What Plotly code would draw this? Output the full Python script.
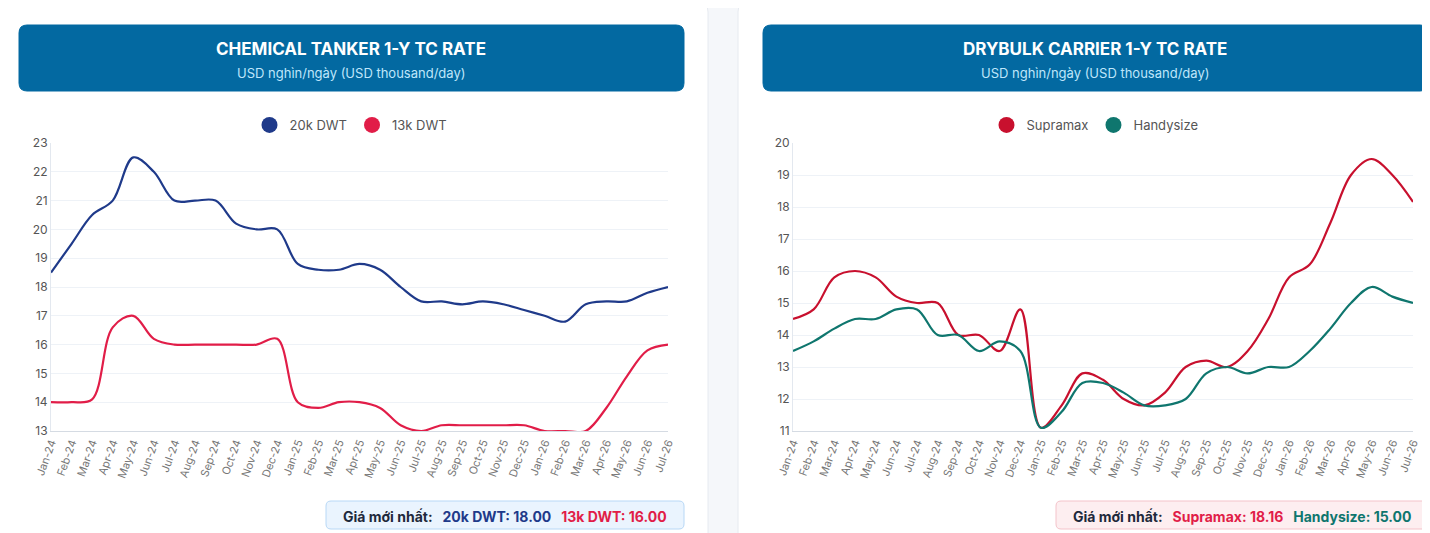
import plotly.graph_objects as go

months = ["Jan-24", "Feb-24", "Mar-24", "Apr-24", "May-24", "Jun-24", "Jul-24", "Aug-24", "Sep-24", "Oct-24",
          "Nov-24", "Dec-24", "Jan-25", "Feb-25", "Mar-25", "Apr-25", "May-25", "Jun-25", "Jul-25", "Aug-25",
          "Sep-25", "Oct-25", "Nov-25", "Dec-25", "Jan-26", "Feb-26", "Mar-26", "Apr-26", "May-26", "Jun-26", "Jul-26"]

dwt20k = [18.5, 19.5, 20.5, 21, 22.5, 22, 21, 21, 21, 20.2, 20, 20, 18.8, 18.6, 18.6, 18.8, 18.6, 18, 17.5, 17.5,
          17.4, 17.5, 17.4, 17.2, 17, 16.8, 17.4, 17.5, 17.5, 17.8, 18]
dwt13k = [14, 14, 14.1, 16.6, 17, 16.2, 16, 16, 16, 16, 16, 16.2, 14, 13.8, 14, 14, 13.8, 13.2, 13, 13.2,
          13.2, 13.2, 13.2, 13.2, 13, 13, 13, 13.8, 14.9, 15.8, 16]
supramax = [14.5, 14.8, 15.8, 16, 15.8, 15.2, 15, 15, 14, 14, 13.5, 14.8, 11.1, 11.8, 12.8, 12.6, 12, 11.8, 12.2, 13,
            13.2, 13, 13.5, 14.5, 15.8, 16.2, 17.5, 19, 19.5, 19, 18.16]
handysize = [13.5, 13.8, 14.2, 14.5, 14.5, 14.8, 14.8, 14, 14, 13.5, 13.8, 13.5, 11.1, 11.6, 12.5, 12.5, 12.2, 11.8, 11.8, 12,
             12.8, 13, 12.8, 13, 13, 13.5, 14.2, 15, 15.5, 15.2, 15]

BLUE, RED, CRIMSON, GREEN = "#1f3a8a", "#e11d48", "#c8102e", "#0f766e"
W, H = 1430, 533

fig = go.Figure()

def add_pair(names, series, colors, xa, ya, legend):
    for n, s, c in zip(names, series, colors):
        fig.add_trace(go.Scatter(x=months, y=s, mode="lines", line=dict(color=c, width=2.2, shape="spline"),
                                 name=n, showlegend=False, xaxis=xa, yaxis=ya))
        fig.add_trace(go.Scatter(x=[None], y=[None], mode="markers", marker=dict(color=c, size=22),
                                 name=n, legend=legend, xaxis=xa, yaxis=ya))

add_pair(["20k DWT", "13k DWT"], [dwt20k, dwt13k], [BLUE, RED], "x", "y", "legend")
add_pair(["Supramax", "Handysize"], [supramax, handysize], [CRIMSON, GREEN], "x2", "y2", "legend2")

def px(x): return x / W
def py(y): return 1 - y / H

xcommon = dict(tickangle=-70, tickfont=dict(size=11, color="#777"), showgrid=False, automargin=False,
               showline=True, linecolor="#d5dbe3", ticks="")
ycommon = dict(tickfont=dict(size=12, color="#555"), gridcolor="#eef2f7", showline=True, automargin=False,
               linecolor="#e3e8ef", zeroline=False, dtick=1)

fig.update_layout(
    width=W, height=H, margin=dict(l=0, r=0, t=0, b=0, autoexpand=False),
    paper_bgcolor="#f5f7fa", plot_bgcolor="white",
    font=dict(family="Inter", color="#555"),
    xaxis=dict(xcommon, domain=[px(43), px(660)], anchor="y"),
    yaxis=dict(ycommon, domain=[py(423), py(135)], range=[13, 23], anchor="x"),
    xaxis2=dict(xcommon, domain=[px(785), px(1405)], anchor="y2"),
    yaxis2=dict(ycommon, domain=[py(423), py(135)], range=[11, 20], anchor="x2"),
    legend=dict(orientation="h", x=px(343), xanchor="center", y=py(117), yanchor="middle",
                font=dict(size=13, color="#555"), itemwidth=30, bgcolor="rgba(0,0,0,0)"),
    legend2=dict(orientation="h", x=px(1087), xanchor="center", y=py(117), yanchor="middle",
                 font=dict(size=13, color="#555"), itemwidth=30, bgcolor="rgba(0,0,0,0)"),
    hovermode="x unified",
)

def rbox_px(x0, y0, x1, y1, fill, line=None, r=8):
    rx, ry = r / W, r / H
    a, b, c, d = px(x0), py(y0), px(x1), py(y1)
    path = (f"M{a+rx},{b} L{c-rx},{b} Q{c},{b} {c},{b-ry} L{c},{d+ry} Q{c},{d} {c-rx},{d} "
            f"L{a+rx},{d} Q{a},{d} {a},{d+ry} L{a},{b-ry} Q{a},{b} {a+rx},{b} Z")
    fig.add_shape(type="path", path=path, xref="paper", yref="paper", layer="below",
                  fillcolor=fill, line=dict(color=line or fill, width=1))

# cards
rbox_px(-10, -10, 700, 545, "white", "#e6eaf0", r=14)
rbox_px(730, -10, 1440, 545, "white", "#e6eaf0", r=14)
# headers
rbox_px(11, 17, 676, 83, "#0369a1")
rbox_px(755, 17, 1420, 83, "#0369a1")
# footers
rbox_px(318, 493, 676, 521, "#eaf4fe", "#b8d8f6", r=5)
rbox_px(1048, 493, 1420, 521, "#fdeef0", "#f4c3ca", r=5)

def ann(x, y, text, size, color="white", bold=False):
    fig.add_annotation(x=px(x), y=py(y), xref="paper", yref="paper", showarrow=False,
                       xanchor="center", yanchor="middle",
                       text=f"<b>{text}</b>" if bold else text, font=dict(size=size, color=color))

ann(343, 41, "CHEMICAL TANKER 1-Y TC RATE", 17, bold=True)
ann(343, 65, "USD nghìn/ngày (USD thousand/day)", 13, color="#bfe6fb")
ann(1087, 41, "DRYBULK CARRIER 1-Y TC RATE", 17, bold=True)
ann(1087, 65, "USD nghìn/ngày (USD thousand/day)", 13, color="#bfe6fb")

ann(497, 508, f"<b><span style='color:#1e293b'>Giá mới nhất:</span>&nbsp;&nbsp;&nbsp;"
    f"<span style='color:{BLUE}'>20k DWT: {dwt20k[-1]:.2f}</span>&nbsp;&nbsp;&nbsp;"
    f"<span style='color:{RED}'>13k DWT: {dwt13k[-1]:.2f}</span></b>", 14)
ann(1234, 508, f"<b><span style='color:#1e293b'>Giá mới nhất:</span>&nbsp;&nbsp;&nbsp;"
    f"<span style='color:{RED}'>Supramax: {supramax[-1]:.2f}</span>&nbsp;&nbsp;&nbsp;"
    f"<span style='color:{GREEN}'>Handysize: {handysize[-1]:.2f}</span></b>", 14)

fig.write_html("out.html")
